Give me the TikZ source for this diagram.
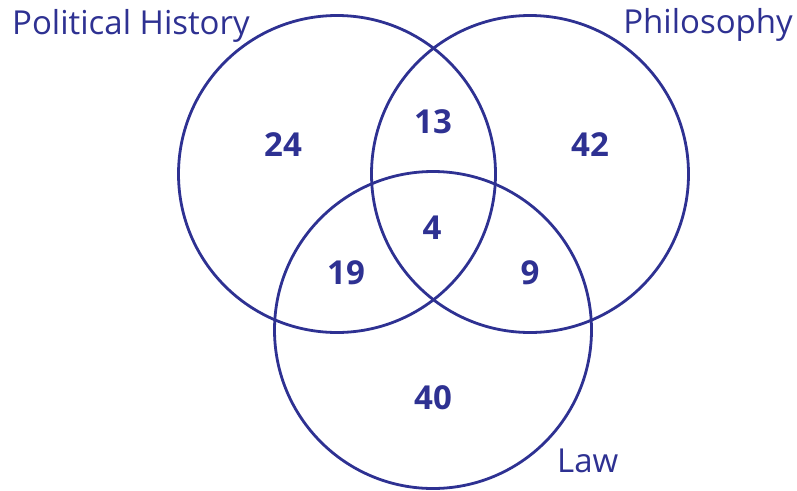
\documentclass[tikz,border=0pt]{standalone}
\usepackage{fontspec}
\setmainfont{Open Sans}
\definecolor{vblue}{RGB}{46,49,146}
\begin{document}
\begin{tikzpicture}[x=1pt,y=-1pt,
  setcircle/.style={draw=vblue,line width=2.8pt},
  setlabel/.style={text=vblue,font=\fontsize{33}{38}\selectfont,inner sep=0pt},
  count/.style={text=vblue,font=\bfseries\fontsize{33}{38}\selectfont,inner sep=0pt,anchor=center}]
\useasboundingbox (0,0) rectangle (797,490);
\fill[white] (0,0) rectangle (797,490);
\coordinate (cA) at (337,174);
\coordinate (cB) at (530,174);
\coordinate (cC) at (433,330);
\draw[setcircle] (cA) circle[radius=158.5];
\draw[setcircle] (cB) circle[radius=158.5];
\draw[setcircle] (cC) circle[radius=158.5];
\node[setlabel,anchor=base west] (lA) at (12,34) {Political History};
\node[setlabel,anchor=base east] (lB) at (793,33) {Philosophy};
\node[setlabel,anchor=base west] (lC) at (557,472) {Law};
\node[count] (nA) at (283,144.5) {24};
\node[count] (nAB) at (433,122) {13};
\node[count] (nB) at (590,144.5) {42};
\node[count] (nABC) at (432,228) {4};
\node[count] (nAC) at (346,273) {19};
\node[count] (nBC) at (530,273) {9};
\node[count] (nC) at (433,398) {40};
\end{tikzpicture}
\end{document}
